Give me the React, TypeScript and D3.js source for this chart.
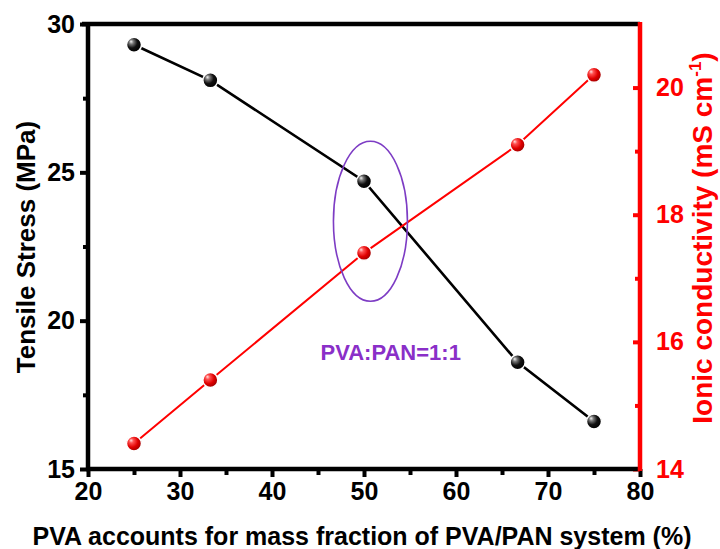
import React, { useEffect, useRef } from 'react';
import * as d3 from 'd3';

const pvaFraction = [25, 33.3, 50, 66.7, 75];
const tensileStress = [29.3, 28.1, 24.7, 18.6, 16.6];
const ionicConductivity = [14.4, 15.4, 17.4, 19.1, 20.2];
const xTicks = [20, 30, 40, 50, 60, 70, 80];
const leftTicks = [15, 20, 25, 30];
const rightTicks = [14, 16, 18, 20];

const W = 720;
const H = 549;
const FONT = 'Liberation Sans, Arial, sans-serif';
const RED = '#ff0000';
const PURPLE = '#8a2fc8';

export default function App() {
  const ref = useRef<SVGSVGElement | null>(null);

  useEffect(() => {
    const svg = d3.select(ref.current);
    svg.selectAll('*').remove();

    const m = { left: 88, right: 80, top: 24, bottom: 80 };
    const x0 = m.left;
    const x1 = W - m.right;
    const y0 = m.top;
    const y1 = H - m.bottom;

    const x = d3.scaleLinear().domain([20, 80]).range([x0, x1]);
    const yL = d3.scaleLinear().domain([15, 30]).range([y1, y0]);
    const yR = d3.scaleLinear().domain([14, 21]).range([y1, y0]);

    const defs = svg.append('defs');
    const grad = (id: string, stops: [number, string][]) => {
      const g = defs.append('radialGradient').attr('id', id)
        .attr('cx', '0.4').attr('cy', '0.4').attr('r', '0.6')
        .attr('fx', '0.3').attr('fy', '0.28');
      stops.forEach(([o, c]) => g.append('stop').attr('offset', o).attr('stop-color', c));
    };
    grad('ballBlack', [[0, '#f4f4f4'], [0.25, '#777'], [0.6, '#111'], [1, '#000']]);
    grad('ballRed', [[0, '#ffe0e0'], [0.25, '#ff5050'], [0.65, '#e00000'], [1, '#a00000']]);

    // lines
    const lineL = d3.line<number>().x((_, i) => x(pvaFraction[i])).y((d) => yL(d));
    const lineR = d3.line<number>().x((_, i) => x(pvaFraction[i])).y((d) => yR(d));

    svg.append('path').attr('d', lineL(tensileStress)!).attr('fill', 'none')
      .attr('stroke', '#000').attr('stroke-width', 2.6);
    svg.append('path').attr('d', lineR(ionicConductivity)!).attr('fill', 'none')
      .attr('stroke', RED).attr('stroke-width', 2);

    // annotation ellipse
    svg.append('ellipse')
      .attr('cx', x(50.7)).attr('cy', yL(23.35))
      .attr('rx', 37).attr('ry', 80)
      .attr('fill', 'none').attr('stroke', '#7d3cc4').attr('stroke-width', 1.6);

    svg.append('text')
      .attr('x', x(52.9)).attr('y', 360)
      .attr('text-anchor', 'middle')
      .attr('font-family', FONT).attr('font-weight', 'bold').attr('font-size', 22)
      .attr('fill', PURPLE)
      .text('PVA:PAN=1:1');

    // markers
    svg.append('g').selectAll('circle').data(tensileStress).join('circle')
      .attr('cx', (_, i) => x(pvaFraction[i])).attr('cy', (d) => yL(d))
      .attr('r', 7.5).attr('fill', 'url(#ballBlack)')
      .attr('stroke', '#fff').attr('stroke-width', 1.5);
    svg.append('g').selectAll('circle').data(ionicConductivity).join('circle')
      .attr('cx', (_, i) => x(pvaFraction[i])).attr('cy', (d) => yR(d))
      .attr('r', 7.5).attr('fill', 'url(#ballRed)')
      .attr('stroke', '#fff').attr('stroke-width', 1.5);

    const styleAxis = (g: d3.Selection<SVGGElement, unknown, null, undefined>, color: string) => {
      g.select('.domain').remove();
      g.selectAll('.tick line').attr('stroke', color).attr('stroke-width', 4);
      g.selectAll('.tick text')
        .attr('fill', color)
        .attr('font-family', FONT)
        .attr('font-weight', 'bold')
        .attr('font-size', 25);
    };

    // bottom axis (major + minor)
    const gxMinor = svg.append('g').attr('transform', `translate(0,${y1})`)
      .call(d3.axisBottom(x).tickValues(d3.range(25, 80, 10)).tickSize(6).tickFormat(() => ''));
    styleAxis(gxMinor, '#000');
    const gx = svg.append('g').attr('transform', `translate(0,${y1})`)
      .call(d3.axisBottom(x).tickValues(xTicks).tickSize(8).tickPadding(5).tickFormat(d3.format('d')));
    styleAxis(gx, '#000');

    // left axis
    const gyMinor = svg.append('g').attr('transform', `translate(${x0},0)`)
      .call(d3.axisLeft(yL).tickValues([17.5, 22.5, 27.5]).tickSize(5).tickFormat(() => ''));
    styleAxis(gyMinor, '#000');
    const gy = svg.append('g').attr('transform', `translate(${x0},0)`)
      .call(d3.axisLeft(yL).tickValues(leftTicks).tickSize(8).tickPadding(5).tickFormat(d3.format('d')));
    styleAxis(gy, '#000');

    // right axis (ticks inward)
    const grMinor = svg.append('g').attr('transform', `translate(${x1},0)`)
      .call(d3.axisRight(yR).tickValues([15, 17, 19]).tickSizeInner(-5).tickSizeOuter(0).tickFormat(() => ''));
    styleAxis(grMinor, RED);
    const gr = svg.append('g').attr('transform', `translate(${x1},0)`)
      .call(d3.axisRight(yR).tickValues(rightTicks).tickSizeInner(-7).tickSizeOuter(0).tickPadding(16).tickFormat(d3.format('d')));
    styleAxis(gr, RED);

    // frame
    svg.append('line').attr('x1', x0 - 6).attr('x2', x1).attr('y1', y0).attr('y2', y0)
      .attr('stroke', '#000').attr('stroke-width', 4.5);
    svg.append('line').attr('x1', x0).attr('x2', x0).attr('y1', y0 - 2).attr('y2', y1 + 2)
      .attr('stroke', '#000').attr('stroke-width', 4.5);
    svg.append('line').attr('x1', x0 - 2).attr('x2', x1).attr('y1', y1).attr('y2', y1)
      .attr('stroke', '#000').attr('stroke-width', 4.5);
    svg.append('line').attr('x1', x1).attr('x2', x1).attr('y1', y0 - 2).attr('y2', y1 + 2)
      .attr('stroke', RED).attr('stroke-width', 4.5);

    // titles
    svg.append('text')
      .attr('x', 362).attr('y', 545)
      .attr('text-anchor', 'middle')
      .attr('font-family', FONT).attr('font-weight', 'bold').attr('font-size', 25)
      .attr('fill', '#000')
      .text('PVA accounts for mass fraction of PVA/PAN system (%)');

    svg.append('text')
      .attr('transform', `translate(35,247) rotate(-90)`)
      .attr('text-anchor', 'middle')
      .attr('font-family', FONT).attr('font-weight', 'bold').attr('font-size', 26)
      .attr('fill', '#000')
      .text('Tensile Stress (MPa)');

    const rt = svg.append('text')
      .attr('transform', `translate(712,238) rotate(-90)`)
      .attr('text-anchor', 'middle')
      .attr('font-family', FONT).attr('font-weight', 'bold').attr('font-size', 28)
      .attr('fill', RED);
    rt.append('tspan').text('Ionic conductivity (mS cm');
    rt.append('tspan').attr('font-size', 17).attr('dy', -11).text('-1');
    rt.append('tspan').attr('dy', 11).text(')');
  }, []);

  return (
    <svg ref={ref} width={W} height={H} viewBox={`0 0 ${W} ${H}`}
      style={{ display: 'block', position: 'absolute', left: 0, top: 0, background: '#fff' }} />
  );
}
